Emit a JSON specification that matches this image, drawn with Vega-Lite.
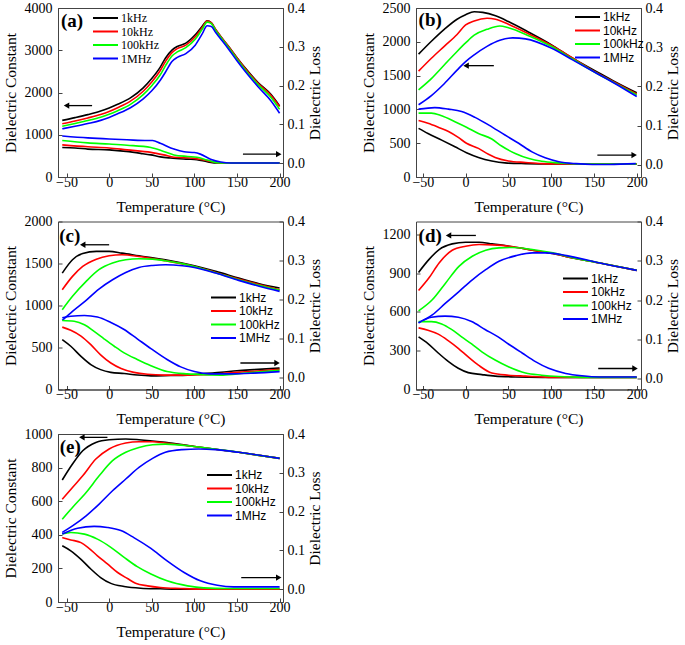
{
"$schema":"https://vega.github.io/schema/vega-lite/v6.json",
"background":"white",
"padding":{"left":2,"top":0,"right":0,"bottom":0},
"datasets":{
"aC":[
{"f":"1kHz","T":-55,"v":1340},{"f":"1kHz","T":-40,"v":1405},{"f":"1kHz","T":-25,"v":1476},{"f":"1kHz","T":-10,"v":1560},{"f":"1kHz","T":0,"v":1635},{"f":"1kHz","T":10,"v":1720},{"f":"1kHz","T":25,"v":1873},{"f":"1kHz","T":40,"v":2111},{"f":"1kHz","T":50,"v":2330},{"f":"1kHz","T":60,"v":2600},{"f":"1kHz","T":66,"v":2810},{"f":"1kHz","T":74,"v":3008},{"f":"1kHz","T":80,"v":3090},{"f":"1kHz","T":90,"v":3167},{"f":"1kHz","T":101,"v":3365},{"f":"1kHz","T":109,"v":3563},{"f":"1kHz","T":115,"v":3698},{"f":"1kHz","T":120,"v":3650},{"f":"1kHz","T":125,"v":3484},{"f":"1kHz","T":130,"v":3349},{"f":"1kHz","T":140,"v":3095},{"f":"1kHz","T":150,"v":2825},{"f":"1kHz","T":160,"v":2571},{"f":"1kHz","T":175,"v":2230},{"f":"1kHz","T":190,"v":1952},{"f":"1kHz","T":200,"v":1683},
{"f":"10kHz","T":-55,"v":1260},{"f":"10kHz","T":-40,"v":1325},{"f":"10kHz","T":-25,"v":1398},{"f":"10kHz","T":-10,"v":1480},{"f":"10kHz","T":0,"v":1550},{"f":"10kHz","T":10,"v":1640},{"f":"10kHz","T":25,"v":1795},{"f":"10kHz","T":40,"v":2030},{"f":"10kHz","T":50,"v":2250},{"f":"10kHz","T":60,"v":2520},{"f":"10kHz","T":66,"v":2730},{"f":"10kHz","T":74,"v":2950},{"f":"10kHz","T":80,"v":3040},{"f":"10kHz","T":90,"v":3120},{"f":"10kHz","T":101,"v":3320},{"f":"10kHz","T":109,"v":3530},{"f":"10kHz","T":115,"v":3690},{"f":"10kHz","T":120,"v":3650},{"f":"10kHz","T":125,"v":3490},{"f":"10kHz","T":130,"v":3350},{"f":"10kHz","T":140,"v":3090},{"f":"10kHz","T":150,"v":2815},{"f":"10kHz","T":160,"v":2555},{"f":"10kHz","T":175,"v":2210},{"f":"10kHz","T":190,"v":1930},{"f":"10kHz","T":200,"v":1665},
{"f":"100kHz","T":-55,"v":1200},{"f":"100kHz","T":-40,"v":1265},{"f":"100kHz","T":-25,"v":1335},{"f":"100kHz","T":-10,"v":1415},{"f":"100kHz","T":0,"v":1485},{"f":"100kHz","T":10,"v":1570},{"f":"100kHz","T":25,"v":1720},{"f":"100kHz","T":40,"v":1950},{"f":"100kHz","T":50,"v":2160},{"f":"100kHz","T":60,"v":2420},{"f":"100kHz","T":66,"v":2630},{"f":"100kHz","T":74,"v":2870},{"f":"100kHz","T":80,"v":2960},{"f":"100kHz","T":90,"v":3060},{"f":"100kHz","T":101,"v":3260},{"f":"100kHz","T":109,"v":3490},{"f":"100kHz","T":115,"v":3665},{"f":"100kHz","T":120,"v":3630},{"f":"100kHz","T":125,"v":3470},{"f":"100kHz","T":130,"v":3330},{"f":"100kHz","T":140,"v":3065},{"f":"100kHz","T":150,"v":2790},{"f":"100kHz","T":160,"v":2525},{"f":"100kHz","T":175,"v":2180},{"f":"100kHz","T":190,"v":1880},{"f":"100kHz","T":200,"v":1600},
{"f":"1MHz","T":-55,"v":1140},{"f":"1MHz","T":-40,"v":1200},{"f":"1MHz","T":-25,"v":1265},{"f":"1MHz","T":-10,"v":1340},{"f":"1MHz","T":0,"v":1410},{"f":"1MHz","T":10,"v":1495},{"f":"1MHz","T":25,"v":1640},{"f":"1MHz","T":40,"v":1850},{"f":"1MHz","T":50,"v":2040},{"f":"1MHz","T":60,"v":2290},{"f":"1MHz","T":66,"v":2480},{"f":"1MHz","T":74,"v":2740},{"f":"1MHz","T":80,"v":2830},{"f":"1MHz","T":90,"v":2920},{"f":"1MHz","T":101,"v":3120},{"f":"1MHz","T":109,"v":3380},{"f":"1MHz","T":115,"v":3580},{"f":"1MHz","T":120,"v":3560},{"f":"1MHz","T":125,"v":3420},{"f":"1MHz","T":130,"v":3290},{"f":"1MHz","T":140,"v":3030},{"f":"1MHz","T":150,"v":2750},{"f":"1MHz","T":160,"v":2490},{"f":"1MHz","T":175,"v":2130},{"f":"1MHz","T":190,"v":1800},{"f":"1MHz","T":200,"v":1510}
],
"aL":[
{"f":"1kHz","T":-55,"v":0.040},{"f":"1kHz","T":-40,"v":0.039},{"f":"1kHz","T":-25,"v":0.036},{"f":"1kHz","T":0,"v":0.034},{"f":"1kHz","T":20,"v":0.030},{"f":"1kHz","T":37,"v":0.025},{"f":"1kHz","T":49,"v":0.021},{"f":"1kHz","T":60,"v":0.016},{"f":"1kHz","T":72,"v":0.013},{"f":"1kHz","T":92,"v":0.010},{"f":"1kHz","T":103,"v":0.0086},{"f":"1kHz","T":115,"v":0.0034},{"f":"1kHz","T":127,"v":0},{"f":"1kHz","T":150,"v":0},{"f":"1kHz","T":175,"v":0},{"f":"1kHz","T":200,"v":0},
{"f":"10kHz","T":-55,"v":0.047},{"f":"10kHz","T":-25,"v":0.042},{"f":"10kHz","T":0,"v":0.039},{"f":"10kHz","T":21,"v":0.034},{"f":"10kHz","T":49,"v":0.0275},{"f":"10kHz","T":64,"v":0.021},{"f":"10kHz","T":76,"v":0.015},{"f":"10kHz","T":100,"v":0.012},{"f":"10kHz","T":111,"v":0.0077},{"f":"10kHz","T":123,"v":0.0026},{"f":"10kHz","T":131,"v":0},{"f":"10kHz","T":160,"v":0},{"f":"10kHz","T":200,"v":0},
{"f":"100kHz","T":-55,"v":0.058},{"f":"100kHz","T":-25,"v":0.052},{"f":"100kHz","T":0,"v":0.049},{"f":"100kHz","T":21,"v":0.046},{"f":"100kHz","T":49,"v":0.040},{"f":"100kHz","T":64,"v":0.030},{"f":"100kHz","T":76,"v":0.021},{"f":"100kHz","T":92,"v":0.017},{"f":"100kHz","T":103,"v":0.015},{"f":"100kHz","T":115,"v":0.0077},{"f":"100kHz","T":127,"v":0.001},{"f":"100kHz","T":135,"v":0},{"f":"100kHz","T":170,"v":0},{"f":"100kHz","T":200,"v":0},
{"f":"1MHz","T":-55,"v":0.070},{"f":"1MHz","T":-25,"v":0.065},{"f":"1MHz","T":0,"v":0.062},{"f":"1MHz","T":21,"v":0.060},{"f":"1MHz","T":45,"v":0.058},{"f":"1MHz","T":51,"v":0.058},{"f":"1MHz","T":60,"v":0.051},{"f":"1MHz","T":76,"v":0.036},{"f":"1MHz","T":88,"v":0.029},{"f":"1MHz","T":100,"v":0.027},{"f":"1MHz","T":107,"v":0.023},{"f":"1MHz","T":119,"v":0.010},{"f":"1MHz","T":131,"v":0.0026},{"f":"1MHz","T":143,"v":0},{"f":"1MHz","T":170,"v":0},{"f":"1MHz","T":200,"v":0}
],
"bC":[
{"f":"1kHz","T":-55,"v":1817},{"f":"1kHz","T":-40,"v":2008},{"f":"1kHz","T":-25,"v":2184},{"f":"1kHz","T":-10,"v":2334},{"f":"1kHz","T":0,"v":2400},{"f":"1kHz","T":10,"v":2445},{"f":"1kHz","T":20,"v":2435},{"f":"1kHz","T":35,"v":2385},{"f":"1kHz","T":50,"v":2300},{"f":"1kHz","T":75,"v":2134},{"f":"1kHz","T":100,"v":1958},{"f":"1kHz","T":125,"v":1757},{"f":"1kHz","T":150,"v":1581},{"f":"1kHz","T":175,"v":1406},{"f":"1kHz","T":200,"v":1245},
{"f":"10kHz","T":-55,"v":1566},{"f":"10kHz","T":-40,"v":1757},{"f":"10kHz","T":-25,"v":1933},{"f":"10kHz","T":-10,"v":2108},{"f":"10kHz","T":0,"v":2249},{"f":"10kHz","T":10,"v":2309},{"f":"10kHz","T":25,"v":2349},{"f":"10kHz","T":35,"v":2334},{"f":"10kHz","T":50,"v":2259},{"f":"10kHz","T":75,"v":2108},{"f":"10kHz","T":100,"v":1948},{"f":"10kHz","T":125,"v":1760},{"f":"10kHz","T":150,"v":1566},{"f":"10kHz","T":175,"v":1395},{"f":"10kHz","T":200,"v":1230},
{"f":"100kHz","T":-55,"v":1290},{"f":"100kHz","T":-40,"v":1456},{"f":"100kHz","T":-25,"v":1657},{"f":"100kHz","T":-10,"v":1857},{"f":"100kHz","T":0,"v":1983},{"f":"100kHz","T":10,"v":2098},{"f":"100kHz","T":25,"v":2184},{"f":"100kHz","T":40,"v":2234},{"f":"100kHz","T":50,"v":2209},{"f":"100kHz","T":75,"v":2083},{"f":"100kHz","T":100,"v":1933},{"f":"100kHz","T":125,"v":1745},{"f":"100kHz","T":150,"v":1556},{"f":"100kHz","T":175,"v":1385},{"f":"100kHz","T":200,"v":1215},
{"f":"1MHz","T":-55,"v":1069},{"f":"1MHz","T":-40,"v":1205},{"f":"1MHz","T":-25,"v":1380},{"f":"1MHz","T":-10,"v":1581},{"f":"1MHz","T":0,"v":1707},{"f":"1MHz","T":10,"v":1807},{"f":"1MHz","T":25,"v":1933},{"f":"1MHz","T":40,"v":2023},{"f":"1MHz","T":55,"v":2058},{"f":"1MHz","T":70,"v":2043},{"f":"1MHz","T":100,"v":1908},{"f":"1MHz","T":125,"v":1732},{"f":"1MHz","T":150,"v":1556},{"f":"1MHz","T":175,"v":1380},{"f":"1MHz","T":200,"v":1190}
],
"bL":[
{"f":"1kHz","T":-55,"v":0.093},{"f":"1kHz","T":-44,"v":0.080},{"f":"1kHz","T":-28,"v":0.063},{"f":"1kHz","T":-12.5,"v":0.046},{"f":"1kHz","T":1,"v":0.031},{"f":"1kHz","T":15,"v":0.019},{"f":"1kHz","T":30.6,"v":0.010},{"f":"1kHz","T":46,"v":0.005},{"f":"1kHz","T":70,"v":0.003},{"f":"1kHz","T":100,"v":0.002},{"f":"1kHz","T":150,"v":0.002},{"f":"1kHz","T":200,"v":0.002},
{"f":"10kHz","T":-55,"v":0.113},{"f":"10kHz","T":-44,"v":0.106},{"f":"10kHz","T":-32,"v":0.096},{"f":"10kHz","T":-20,"v":0.085},{"f":"10kHz","T":-8.6,"v":0.070},{"f":"10kHz","T":1,"v":0.055},{"f":"10kHz","T":15,"v":0.042},{"f":"10kHz","T":26.7,"v":0.027},{"f":"10kHz","T":34.5,"v":0.019},{"f":"10kHz","T":50,"v":0.010},{"f":"10kHz","T":70,"v":0.006},{"f":"10kHz","T":89,"v":0.003},{"f":"10kHz","T":110,"v":0.002},{"f":"10kHz","T":200,"v":0.002},
{"f":"100kHz","T":-55,"v":0.132},{"f":"100kHz","T":-40,"v":0.132},{"f":"100kHz","T":-28,"v":0.125},{"f":"100kHz","T":-12.5,"v":0.110},{"f":"100kHz","T":1,"v":0.096},{"f":"100kHz","T":15,"v":0.080},{"f":"100kHz","T":30.6,"v":0.066},{"f":"100kHz","T":42,"v":0.048},{"f":"100kHz","T":58,"v":0.029},{"f":"100kHz","T":74,"v":0.016},{"f":"100kHz","T":89,"v":0.009},{"f":"100kHz","T":109,"v":0.005},{"f":"100kHz","T":136,"v":0.002},{"f":"100kHz","T":200,"v":0.002},
{"f":"1MHz","T":-55,"v":0.142},{"f":"1MHz","T":-36,"v":0.146},{"f":"1MHz","T":-20,"v":0.142},{"f":"1MHz","T":-4.7,"v":0.136},{"f":"1MHz","T":11,"v":0.121},{"f":"1MHz","T":26.7,"v":0.102},{"f":"1MHz","T":46,"v":0.076},{"f":"1MHz","T":62,"v":0.055},{"f":"1MHz","T":77.6,"v":0.033},{"f":"1MHz","T":93,"v":0.018},{"f":"1MHz","T":109,"v":0.008},{"f":"1MHz","T":129,"v":0.003},{"f":"1MHz","T":148,"v":0.001},{"f":"1MHz","T":168,"v":0.001},{"f":"1MHz","T":199,"v":0.003}
],
"cC":[
{"f":"1kHz","T":-55,"v":1386},{"f":"1kHz","T":-43,"v":1545},{"f":"1kHz","T":-31,"v":1620},{"f":"1kHz","T":-15,"v":1644},{"f":"1kHz","T":0,"v":1644},{"f":"1kHz","T":15,"v":1624},{"f":"1kHz","T":35,"v":1592},{"f":"1kHz","T":66,"v":1545},{"f":"1kHz","T":100,"v":1473},{"f":"1kHz","T":125,"v":1406},{"f":"1kHz","T":152,"v":1327},{"f":"1kHz","T":176,"v":1259},{"f":"1kHz","T":200,"v":1208},
{"f":"10kHz","T":-55,"v":1188},{"f":"10kHz","T":-43,"v":1347},{"f":"10kHz","T":-31,"v":1465},{"f":"10kHz","T":-15,"v":1552},{"f":"10kHz","T":0,"v":1592},{"f":"10kHz","T":15,"v":1604},{"f":"10kHz","T":35,"v":1584},{"f":"10kHz","T":66,"v":1533},{"f":"10kHz","T":100,"v":1465},{"f":"10kHz","T":125,"v":1394},{"f":"10kHz","T":152,"v":1315},{"f":"10kHz","T":176,"v":1250},{"f":"10kHz","T":200,"v":1188},
{"f":"100kHz","T":-55,"v":950},{"f":"100kHz","T":-43,"v":1109},{"f":"100kHz","T":-27,"v":1287},{"f":"100kHz","T":-12,"v":1426},{"f":"100kHz","T":4,"v":1505},{"f":"100kHz","T":19.5,"v":1545},{"f":"100kHz","T":35,"v":1556},{"f":"100kHz","T":51,"v":1552},{"f":"100kHz","T":66,"v":1533},{"f":"100kHz","T":100,"v":1465},{"f":"100kHz","T":125,"v":1390},{"f":"100kHz","T":152,"v":1307},{"f":"100kHz","T":176,"v":1240},{"f":"100kHz","T":200,"v":1180},
{"f":"1MHz","T":-55,"v":824},{"f":"1MHz","T":-43,"v":931},{"f":"1MHz","T":-27,"v":1061},{"f":"1MHz","T":-12,"v":1196},{"f":"1MHz","T":4,"v":1307},{"f":"1MHz","T":19.5,"v":1394},{"f":"1MHz","T":35,"v":1453},{"f":"1MHz","T":51,"v":1477},{"f":"1MHz","T":66,"v":1485},{"f":"1MHz","T":86,"v":1473},{"f":"1MHz","T":100,"v":1453},{"f":"1MHz","T":125,"v":1386},{"f":"1MHz","T":152,"v":1299},{"f":"1MHz","T":176,"v":1230},{"f":"1MHz","T":200,"v":1168}
],
"cL":[
{"f":"1kHz","T":-55,"v":0.097},{"f":"1kHz","T":-45,"v":0.080},{"f":"1kHz","T":-33,"v":0.054},{"f":"1kHz","T":-21.5,"v":0.033},{"f":"1kHz","T":-10,"v":0.020},{"f":"1kHz","T":2,"v":0.013},{"f":"1kHz","T":17.6,"v":0.010},{"f":"1kHz","T":33,"v":0.006},{"f":"1kHz","T":49,"v":0.004},{"f":"1kHz","T":72,"v":0.005},{"f":"1kHz","T":92,"v":0.006},{"f":"1kHz","T":111,"v":0.010},{"f":"1kHz","T":131,"v":0.013},{"f":"1kHz","T":150,"v":0.017},{"f":"1kHz","T":170,"v":0.020},{"f":"1kHz","T":200,"v":0.024},
{"f":"10kHz","T":-55,"v":0.129},{"f":"10kHz","T":-45,"v":0.121},{"f":"10kHz","T":-33,"v":0.106},{"f":"10kHz","T":-21.5,"v":0.084},{"f":"10kHz","T":-10,"v":0.058},{"f":"10kHz","T":2,"v":0.037},{"f":"10kHz","T":14,"v":0.023},{"f":"10kHz","T":29,"v":0.013},{"f":"10kHz","T":45,"v":0.008},{"f":"10kHz","T":64.5,"v":0.006},{"f":"10kHz","T":92,"v":0.006},{"f":"10kHz","T":111,"v":0.007},{"f":"10kHz","T":131,"v":0.010},{"f":"10kHz","T":150,"v":0.013},{"f":"10kHz","T":170,"v":0.016},{"f":"10kHz","T":200,"v":0.021},
{"f":"100kHz","T":-55,"v":0.146},{"f":"100kHz","T":-41,"v":0.144},{"f":"100kHz","T":-29,"v":0.135},{"f":"100kHz","T":-17.6,"v":0.118},{"f":"100kHz","T":-6,"v":0.099},{"f":"100kHz","T":6,"v":0.080},{"f":"100kHz","T":17.6,"v":0.063},{"f":"100kHz","T":33,"v":0.046},{"f":"100kHz","T":49,"v":0.030},{"f":"100kHz","T":68,"v":0.015},{"f":"100kHz","T":92,"v":0.009},{"f":"100kHz","T":111,"v":0.007},{"f":"100kHz","T":131,"v":0.006},{"f":"100kHz","T":150,"v":0.009},{"f":"100kHz","T":170,"v":0.013},{"f":"100kHz","T":200,"v":0.018},
{"f":"1MHz","T":-55,"v":0.153},{"f":"1MHz","T":-45,"v":0.157},{"f":"1MHz","T":-29,"v":0.159},{"f":"1MHz","T":-13.7,"v":0.155},{"f":"1MHz","T":2,"v":0.141},{"f":"1MHz","T":17.6,"v":0.123},{"f":"1MHz","T":33,"v":0.099},{"f":"1MHz","T":49,"v":0.074},{"f":"1MHz","T":68,"v":0.046},{"f":"1MHz","T":84,"v":0.027},{"f":"1MHz","T":100,"v":0.015},{"f":"1MHz","T":119,"v":0.009},{"f":"1MHz","T":143,"v":0.009},{"f":"1MHz","T":170,"v":0.011},{"f":"1MHz","T":200,"v":0.015}
],
"dC":[
{"f":"1kHz","T":-55,"v":906},{"f":"1kHz","T":-43,"v":1005},{"f":"1kHz","T":-31,"v":1083},{"f":"1kHz","T":-15.7,"v":1127},{"f":"1kHz","T":0,"v":1140},{"f":"1kHz","T":15.7,"v":1140},{"f":"1kHz","T":31,"v":1127},{"f":"1kHz","T":51,"v":1109},{"f":"1kHz","T":78,"v":1078},{"f":"1kHz","T":102,"v":1052},{"f":"1kHz","T":125,"v":1018},{"f":"1kHz","T":157,"v":979},{"f":"1kHz","T":200,"v":922},
{"f":"10kHz","T":-55,"v":766},{"f":"10kHz","T":-43,"v":862},{"f":"10kHz","T":-31,"v":979},{"f":"10kHz","T":-15.7,"v":1078},{"f":"10kHz","T":0,"v":1109},{"f":"10kHz","T":15.7,"v":1122},{"f":"10kHz","T":31,"v":1119},{"f":"10kHz","T":51,"v":1109},{"f":"10kHz","T":78,"v":1078},{"f":"10kHz","T":102,"v":1052},{"f":"10kHz","T":125,"v":1018},{"f":"10kHz","T":157,"v":979},{"f":"10kHz","T":200,"v":922},
{"f":"100kHz","T":-55,"v":608},{"f":"100kHz","T":-39,"v":694},{"f":"100kHz","T":-23.5,"v":823},{"f":"100kHz","T":-7.8,"v":953},{"f":"100kHz","T":7.8,"v":1031},{"f":"100kHz","T":23.5,"v":1078},{"f":"100kHz","T":39,"v":1096},{"f":"100kHz","T":55,"v":1099},{"f":"100kHz","T":78,"v":1083},{"f":"100kHz","T":102,"v":1057},{"f":"100kHz","T":125,"v":1020},{"f":"100kHz","T":157,"v":979},{"f":"100kHz","T":200,"v":922},
{"f":"1MHz","T":-55,"v":517},{"f":"1MHz","T":-39,"v":577},{"f":"1MHz","T":-23.5,"v":668},{"f":"1MHz","T":-7.8,"v":758},{"f":"1MHz","T":7.8,"v":849},{"f":"1MHz","T":23.5,"v":927},{"f":"1MHz","T":39,"v":992},{"f":"1MHz","T":59,"v":1036},{"f":"1MHz","T":78,"v":1057},{"f":"1MHz","T":94,"v":1057},{"f":"1MHz","T":118,"v":1036},{"f":"1MHz","T":157,"v":979},{"f":"1MHz","T":200,"v":922}
],
"dL":[
{"f":"1kHz","T":-55,"v":0.106},{"f":"1kHz","T":-44,"v":0.089},{"f":"1kHz","T":-32,"v":0.065},{"f":"1kHz","T":-20,"v":0.043},{"f":"1kHz","T":-8.6,"v":0.026},{"f":"1kHz","T":3,"v":0.015},{"f":"1kHz","T":19,"v":0.010},{"f":"1kHz","T":34.5,"v":0.006},{"f":"1kHz","T":58,"v":0.004},{"f":"1kHz","T":90,"v":0.003},{"f":"1kHz","T":150,"v":0.003},{"f":"1kHz","T":200,"v":0.003},
{"f":"10kHz","T":-55,"v":0.129},{"f":"10kHz","T":-44,"v":0.123},{"f":"10kHz","T":-32,"v":0.113},{"f":"10kHz","T":-20,"v":0.096},{"f":"10kHz","T":-8.6,"v":0.077},{"f":"10kHz","T":3,"v":0.055},{"f":"10kHz","T":15,"v":0.034},{"f":"10kHz","T":30.6,"v":0.014},{"f":"10kHz","T":50,"v":0.0085},{"f":"10kHz","T":70,"v":0.006},{"f":"10kHz","T":97,"v":0.003},{"f":"10kHz","T":120,"v":0.0025},{"f":"10kHz","T":200,"v":0.0025},
{"f":"100kHz","T":-55,"v":0.145},{"f":"100kHz","T":-40,"v":0.145},{"f":"100kHz","T":-28,"v":0.139},{"f":"100kHz","T":-16.5,"v":0.125},{"f":"100kHz","T":-4.7,"v":0.106},{"f":"100kHz","T":7,"v":0.088},{"f":"100kHz","T":19,"v":0.068},{"f":"100kHz","T":34.5,"v":0.047},{"f":"100kHz","T":50,"v":0.030},{"f":"100kHz","T":70,"v":0.014},{"f":"100kHz","T":89,"v":0.0085},{"f":"100kHz","T":109,"v":0.005},{"f":"100kHz","T":136,"v":0.003},{"f":"100kHz","T":170,"v":0.0025},{"f":"100kHz","T":200,"v":0.0025},
{"f":"1MHz","T":-55,"v":0.142},{"f":"1MHz","T":-40,"v":0.156},{"f":"1MHz","T":-24,"v":0.159},{"f":"1MHz","T":-8.6,"v":0.156},{"f":"1MHz","T":7,"v":0.145},{"f":"1MHz","T":22.7,"v":0.125},{"f":"1MHz","T":38,"v":0.106},{"f":"1MHz","T":50,"v":0.088},{"f":"1MHz","T":66,"v":0.065},{"f":"1MHz","T":81.6,"v":0.043},{"f":"1MHz","T":97,"v":0.026},{"f":"1MHz","T":117,"v":0.013},{"f":"1MHz","T":136,"v":0.007},{"f":"1MHz","T":156,"v":0.004},{"f":"1MHz","T":200,"v":0.004}
],
"eC":[
{"f":"1kHz","T":-55,"v":726},{"f":"1kHz","T":-43,"v":821},{"f":"1kHz","T":-31,"v":900},{"f":"1kHz","T":-15.6,"v":950},{"f":"1kHz","T":0,"v":966},{"f":"1kHz","T":19.5,"v":970},{"f":"1kHz","T":35,"v":966},{"f":"1kHz","T":66,"v":950},{"f":"1kHz","T":100,"v":926},{"f":"1kHz","T":152,"v":891},{"f":"1kHz","T":200,"v":855},
{"f":"10kHz","T":-55,"v":612},{"f":"10kHz","T":-43,"v":682},{"f":"10kHz","T":-31,"v":751},{"f":"10kHz","T":-15.6,"v":851},{"f":"10kHz","T":0,"v":911},{"f":"10kHz","T":19.5,"v":946},{"f":"10kHz","T":35,"v":954},{"f":"10kHz","T":51,"v":954},{"f":"10kHz","T":66,"v":946},{"f":"10kHz","T":100,"v":926},{"f":"10kHz","T":152,"v":891},{"f":"10kHz","T":200,"v":855},
{"f":"100kHz","T":-55,"v":493},{"f":"100kHz","T":-43,"v":563},{"f":"100kHz","T":-27,"v":652},{"f":"100kHz","T":-11.7,"v":751},{"f":"100kHz","T":4,"v":841},{"f":"100kHz","T":19.5,"v":891},{"f":"100kHz","T":35,"v":920},{"f":"100kHz","T":51,"v":936},{"f":"100kHz","T":66,"v":940},{"f":"100kHz","T":100,"v":926},{"f":"100kHz","T":152,"v":891},{"f":"100kHz","T":200,"v":855},
{"f":"1MHz","T":-55,"v":414},{"f":"1MHz","T":-43,"v":453},{"f":"1MHz","T":-27,"v":513},{"f":"1MHz","T":-11.7,"v":583},{"f":"1MHz","T":4,"v":662},{"f":"1MHz","T":19.5,"v":732},{"f":"1MHz","T":35,"v":801},{"f":"1MHz","T":51,"v":855},{"f":"1MHz","T":66,"v":891},{"f":"1MHz","T":86,"v":907},{"f":"1MHz","T":105,"v":911},{"f":"1MHz","T":125,"v":907},{"f":"1MHz","T":152,"v":891},{"f":"1MHz","T":200,"v":855}
],
"eL":[
{"f":"1kHz","T":-55,"v":0.112},{"f":"1kHz","T":-45,"v":0.099},{"f":"1kHz","T":-33,"v":0.077},{"f":"1kHz","T":-21.5,"v":0.052},{"f":"1kHz","T":-10,"v":0.030},{"f":"1kHz","T":2,"v":0.015},{"f":"1kHz","T":17.6,"v":0.007},{"f":"1kHz","T":37,"v":0.0026},{"f":"1kHz","T":60,"v":0.001},{"f":"1kHz","T":80,"v":0},{"f":"1kHz","T":200,"v":0},
{"f":"10kHz","T":-55,"v":0.133},{"f":"10kHz","T":-45,"v":0.127},{"f":"10kHz","T":-33,"v":0.120},{"f":"10kHz","T":-25,"v":0.108},{"f":"10kHz","T":-13.7,"v":0.086},{"f":"10kHz","T":-2,"v":0.065},{"f":"10kHz","T":10,"v":0.043},{"f":"10kHz","T":21.5,"v":0.0275},{"f":"10kHz","T":31,"v":0.0155},{"f":"10kHz","T":45,"v":0.0086},{"f":"10kHz","T":60,"v":0.0043},{"f":"10kHz","T":84,"v":0.0017},{"f":"10kHz","T":111,"v":0},{"f":"10kHz","T":200,"v":0},
{"f":"100kHz","T":-55,"v":0.142},{"f":"100kHz","T":-45,"v":0.146},{"f":"100kHz","T":-29,"v":0.142},{"f":"100kHz","T":-13.7,"v":0.129},{"f":"100kHz","T":2,"v":0.108},{"f":"100kHz","T":17.6,"v":0.082},{"f":"100kHz","T":33,"v":0.058},{"f":"100kHz","T":49,"v":0.039},{"f":"100kHz","T":68,"v":0.0215},{"f":"100kHz","T":92,"v":0.0086},{"f":"100kHz","T":111,"v":0.0034},{"f":"100kHz","T":139,"v":0.0017},{"f":"100kHz","T":200,"v":0.0017},
{"f":"1MHz","T":-55,"v":0.142},{"f":"1MHz","T":-37,"v":0.157},{"f":"1MHz","T":-17.6,"v":0.162},{"f":"1MHz","T":-2,"v":0.159},{"f":"1MHz","T":13.7,"v":0.151},{"f":"1MHz","T":29,"v":0.133},{"f":"1MHz","T":49,"v":0.105},{"f":"1MHz","T":68,"v":0.073},{"f":"1MHz","T":88,"v":0.043},{"f":"1MHz","T":107,"v":0.0215},{"f":"1MHz","T":127,"v":0.010},{"f":"1MHz","T":146,"v":0.006},{"f":"1MHz","T":200,"v":0.006}
]
},
"columns":2,
"spacing":{"row":44.5,"column":133},
"bounds":"flush",
"resolve":{"scale":{"x":"independent","y":"independent","color":"independent"},"legend":{"color":"independent"}},
"concat":[
{"width":225,"height":169,
 "layer":[
  {"layer":[
   {"data":{"name":"aC"},"mark":{"type":"line","strokeWidth":1.6,"interpolate":"monotone"},
    "encoding":{
     "x":{"field":"T","type":"quantitative","scale":{"domain":[-60,204],"nice":false,"zero":false},"axis":{"values":[-50,0,50,100,150,200],"tickCount":10,"title":"Temperature (°C)"}},
     "y":{"field":"v","type":"quantitative","scale":{"domain":[0,4000],"nice":false,"zero":false},"axis":{"values":[0,1000,2000,3000,4000],"tickCount":10,"format":"d","title":"Dielectric Constant","orient":"left"}},
     "color":{"field":"f","type":"nominal","scale":{"domain":["1kHz","10kHz","100kHz","1MHz"],"range":["#000000","#ff0000","#00ff00","#0000ff"]},
      "legend":{"orient":"none","legendX":49,"legendY":4,"labelFont":"Liberation Serif"}}}},
   {"data":{"values":[{"T":-50,"T2":-20,"v":1690}]},"mark":{"type":"rule","color":"black","strokeWidth":1.3},"encoding":{"x":{"field":"T","type":"quantitative"},"x2":{"field":"T2"},"y":{"field":"v","type":"quantitative"}}},
   {"data":{"values":[{"T":-50,"v":1690}]},"mark":{"type":"point","shape":"triangle-left","filled":true,"color":"black","size":40,"opacity":1},"encoding":{"x":{"field":"T","type":"quantitative"},"y":{"field":"v","type":"quantitative"}}},
   {"data":{"values":[{"T":-56.5,"v":3690,"t":"(a)"}]},"mark":{"type":"text","font":"Liberation Serif","fontWeight":"bold","fontSize":19,"align":"left","baseline":"middle","color":"black"},"encoding":{"x":{"field":"T","type":"quantitative"},"y":{"field":"v","type":"quantitative"},"text":{"field":"t"}}}
  ]},
  {"layer":[
   {"data":{"name":"aL"},"mark":{"type":"line","strokeWidth":1.6,"interpolate":"monotone"},
    "encoding":{
     "x":{"field":"T","type":"quantitative"},
     "y":{"field":"v","type":"quantitative","scale":{"domain":[-0.036,0.4],"nice":false,"zero":false},"axis":{"values":[0,0.1,0.2,0.3,0.4],"tickCount":10,"format":".1f","title":"Dielectric Loss","orient":"right"}},
     "color":{"field":"f","type":"nominal"}}},
   {"data":{"values":[{"T":157,"T2":199,"v":0.023}]},"mark":{"type":"rule","color":"black","strokeWidth":1.3},"encoding":{"x":{"field":"T","type":"quantitative"},"x2":{"field":"T2"},"y":{"field":"v","type":"quantitative"}}},
   {"data":{"values":[{"T":199,"v":0.023}]},"mark":{"type":"point","shape":"triangle-right","filled":true,"color":"black","size":40,"opacity":1},"encoding":{"x":{"field":"T","type":"quantitative"},"y":{"field":"v","type":"quantitative"}}}
  ]}
 ],
 "resolve":{"scale":{"y":"independent"}}
},
{"width":225,"height":169,
 "layer":[
  {"layer":[
   {"data":{"name":"bC"},"mark":{"type":"line","strokeWidth":1.6,"interpolate":"monotone"},
    "encoding":{
     "x":{"field":"T","type":"quantitative","scale":{"domain":[-58,205],"nice":false,"zero":false},"axis":{"values":[-50,0,50,100,150,200],"tickCount":10,"title":"Temperature (°C)"}},
     "y":{"field":"v","type":"quantitative","scale":{"domain":[0,2500],"nice":false,"zero":false},"axis":{"values":[0,500,1000,1500,2000,2500],"tickCount":10,"format":"d","title":"Dielectric Constant","orient":"left"}},
     "color":{"field":"f","type":"nominal","scale":{"domain":["1kHz","10kHz","100kHz","1MHz"],"range":["#000000","#ff0000","#00ff00","#0000ff"]},
      "legend":{"orient":"none","legendX":173,"legendY":3}}}},
   {"data":{"values":[{"T":0.5,"T2":33,"v":1647}]},"mark":{"type":"rule","color":"black","strokeWidth":1.3},"encoding":{"x":{"field":"T","type":"quantitative"},"x2":{"field":"T2"},"y":{"field":"v","type":"quantitative"}}},
   {"data":{"values":[{"T":0.5,"v":1647}]},"mark":{"type":"point","shape":"triangle-left","filled":true,"color":"black","size":40,"opacity":1},"encoding":{"x":{"field":"T","type":"quantitative"},"y":{"field":"v","type":"quantitative"}}},
   {"data":{"values":[{"T":-55,"v":2319,"t":"(b)"}]},"mark":{"type":"text","font":"Liberation Serif","fontWeight":"bold","fontSize":19,"align":"left","baseline":"middle","color":"black"},"encoding":{"x":{"field":"T","type":"quantitative"},"y":{"field":"v","type":"quantitative"},"text":{"field":"t"}}}
  ]},
  {"layer":[
   {"data":{"name":"bL"},"mark":{"type":"line","strokeWidth":1.6,"interpolate":"monotone"},
    "encoding":{
     "x":{"field":"T","type":"quantitative"},
     "y":{"field":"v","type":"quantitative","scale":{"domain":[-0.031,0.4],"nice":false,"zero":false},"axis":{"values":[0,0.1,0.2,0.3,0.4],"tickCount":10,"format":".1f","title":"Dielectric Loss","orient":"right"}},
     "color":{"field":"f","type":"nominal"}}},
   {"data":{"values":[{"T":154,"T2":197,"v":0.025}]},"mark":{"type":"rule","color":"black","strokeWidth":1.3},"encoding":{"x":{"field":"T","type":"quantitative"},"x2":{"field":"T2"},"y":{"field":"v","type":"quantitative"}}},
   {"data":{"values":[{"T":197,"v":0.025}]},"mark":{"type":"point","shape":"triangle-right","filled":true,"color":"black","size":40,"opacity":1},"encoding":{"x":{"field":"T","type":"quantitative"},"y":{"field":"v","type":"quantitative"}}}
  ]}
 ],
 "resolve":{"scale":{"y":"independent"}}
},
{"width":225,"height":168,
 "layer":[
  {"layer":[
   {"data":{"name":"cC"},"mark":{"type":"line","strokeWidth":1.6,"interpolate":"monotone"},
    "encoding":{
     "x":{"field":"T","type":"quantitative","scale":{"domain":[-60,204],"nice":false,"zero":false},"axis":{"values":[-50,0,50,100,150,200],"tickCount":10,"title":"Temperature (°C)"}},
     "y":{"field":"v","type":"quantitative","scale":{"domain":[0,2000],"nice":false,"zero":false},"axis":{"values":[0,500,1000,1500,2000],"tickCount":10,"format":"d","title":"Dielectric Constant","orient":"left"}},
     "color":{"field":"f","type":"nominal","scale":{"domain":["1kHz","10kHz","100kHz","1MHz"],"range":["#000000","#ff0000","#00ff00","#0000ff"]},
      "legend":{"orient":"none","legendX":167,"legendY":70}}}},
   {"data":{"values":[{"T":-31,"T2":0,"v":1723}]},"mark":{"type":"rule","color":"black","strokeWidth":1.3},"encoding":{"x":{"field":"T","type":"quantitative"},"x2":{"field":"T2"},"y":{"field":"v","type":"quantitative"}}},
   {"data":{"values":[{"T":-31,"v":1723}]},"mark":{"type":"point","shape":"triangle-left","filled":true,"color":"black","size":40,"opacity":1},"encoding":{"x":{"field":"T","type":"quantitative"},"y":{"field":"v","type":"quantitative"}}},
   {"data":{"values":[{"T":-58.5,"v":1822,"t":"(c)"}]},"mark":{"type":"text","font":"Liberation Serif","fontWeight":"bold","fontSize":19,"align":"left","baseline":"middle","color":"black"},"encoding":{"x":{"field":"T","type":"quantitative"},"y":{"field":"v","type":"quantitative"},"text":{"field":"t"}}}
  ]},
  {"layer":[
   {"data":{"name":"cL"},"mark":{"type":"line","strokeWidth":1.6,"interpolate":"monotone"},
    "encoding":{
     "x":{"field":"T","type":"quantitative"},
     "y":{"field":"v","type":"quantitative","scale":{"domain":[-0.031,0.4],"nice":false,"zero":false},"axis":{"values":[0,0.1,0.2,0.3,0.4],"tickCount":10,"format":".1f","title":"Dielectric Loss","orient":"right"}},
     "color":{"field":"f","type":"nominal"}}},
   {"data":{"values":[{"T":154,"T2":197,"v":0.037}]},"mark":{"type":"rule","color":"black","strokeWidth":1.3},"encoding":{"x":{"field":"T","type":"quantitative"},"x2":{"field":"T2"},"y":{"field":"v","type":"quantitative"}}},
   {"data":{"values":[{"T":197,"v":0.037}]},"mark":{"type":"point","shape":"triangle-right","filled":true,"color":"black","size":40,"opacity":1},"encoding":{"x":{"field":"T","type":"quantitative"},"y":{"field":"v","type":"quantitative"}}}
  ]}
 ],
 "resolve":{"scale":{"y":"independent"}}
},
{"width":225,"height":168,
 "layer":[
  {"layer":[
   {"data":{"name":"dC"},"mark":{"type":"line","strokeWidth":1.6,"interpolate":"monotone"},
    "encoding":{
     "x":{"field":"T","type":"quantitative","scale":{"domain":[-58,205],"nice":false,"zero":false},"axis":{"values":[-50,0,50,100,150,200],"tickCount":10,"title":"Temperature (°C)"}},
     "y":{"field":"v","type":"quantitative","scale":{"domain":[0,1300],"nice":false,"zero":false},"axis":{"values":[0,300,600,900,1200],"tickCount":10,"format":"d","title":"Dielectric Constant","orient":"left"}},
     "color":{"field":"f","type":"nominal","scale":{"domain":["1kHz","10kHz","100kHz","1MHz"],"range":["#000000","#ff0000","#00ff00","#0000ff"]},
      "legend":{"orient":"none","legendX":161,"legendY":51}}}},
   {"data":{"values":[{"T":-20,"T2":12,"v":1192}]},"mark":{"type":"rule","color":"black","strokeWidth":1.3},"encoding":{"x":{"field":"T","type":"quantitative"},"x2":{"field":"T2"},"y":{"field":"v","type":"quantitative"}}},
   {"data":{"values":[{"T":-20,"v":1192}]},"mark":{"type":"point","shape":"triangle-left","filled":true,"color":"black","size":40,"opacity":1},"encoding":{"x":{"field":"T","type":"quantitative"},"y":{"field":"v","type":"quantitative"}}},
   {"data":{"values":[{"T":-55,"v":1187,"t":"(d)"}]},"mark":{"type":"text","font":"Liberation Serif","fontWeight":"bold","fontSize":19,"align":"left","baseline":"middle","color":"black"},"encoding":{"x":{"field":"T","type":"quantitative"},"y":{"field":"v","type":"quantitative"},"text":{"field":"t"}}}
  ]},
  {"layer":[
   {"data":{"name":"dL"},"mark":{"type":"line","strokeWidth":1.6,"interpolate":"monotone"},
    "encoding":{
     "x":{"field":"T","type":"quantitative"},
     "y":{"field":"v","type":"quantitative","scale":{"domain":[-0.028,0.4],"nice":false,"zero":false},"axis":{"values":[0,0.1,0.2,0.3,0.4],"tickCount":10,"format":".1f","title":"Dielectric Loss","orient":"right"}},
     "color":{"field":"f","type":"nominal"}}},
   {"data":{"values":[{"T":155,"T2":198,"v":0.0255}]},"mark":{"type":"rule","color":"black","strokeWidth":1.3},"encoding":{"x":{"field":"T","type":"quantitative"},"x2":{"field":"T2"},"y":{"field":"v","type":"quantitative"}}},
   {"data":{"values":[{"T":198,"v":0.0255}]},"mark":{"type":"point","shape":"triangle-right","filled":true,"color":"black","size":40,"opacity":1},"encoding":{"x":{"field":"T","type":"quantitative"},"y":{"field":"v","type":"quantitative"}}}
  ]}
 ],
 "resolve":{"scale":{"y":"independent"}}
},
{"width":225,"height":168,
 "layer":[
  {"layer":[
   {"data":{"name":"eC"},"mark":{"type":"line","strokeWidth":1.6,"interpolate":"monotone"},
    "encoding":{
     "x":{"field":"T","type":"quantitative","scale":{"domain":[-60,204],"nice":false,"zero":false},"axis":{"values":[-50,0,50,100,150,200],"tickCount":10,"title":"Temperature (°C)"}},
     "y":{"field":"v","type":"quantitative","scale":{"domain":[0,1000],"nice":false,"zero":false},"axis":{"values":[0,200,400,600,800,1000],"tickCount":10,"format":"d","title":"Dielectric Constant","orient":"left"}},
     "color":{"field":"f","type":"nominal","scale":{"domain":["1kHz","10kHz","100kHz","1MHz"],"range":["#000000","#ff0000","#00ff00","#0000ff"]},
      "legend":{"orient":"none","legendX":163,"legendY":35}}}},
   {"data":{"values":[{"T":-32,"T2":-2,"v":980}]},"mark":{"type":"rule","color":"black","strokeWidth":1.3},"encoding":{"x":{"field":"T","type":"quantitative"},"x2":{"field":"T2"},"y":{"field":"v","type":"quantitative"}}},
   {"data":{"values":[{"T":-32,"v":980}]},"mark":{"type":"point","shape":"triangle-left","filled":true,"color":"black","size":40,"opacity":1},"encoding":{"x":{"field":"T","type":"quantitative"},"y":{"field":"v","type":"quantitative"}}},
   {"data":{"values":[{"T":-58,"v":920,"t":"(e)"}]},"mark":{"type":"text","font":"Liberation Serif","fontWeight":"bold","fontSize":19,"align":"left","baseline":"middle","color":"black"},"encoding":{"x":{"field":"T","type":"quantitative"},"y":{"field":"v","type":"quantitative"},"text":{"field":"t"}}}
  ]},
  {"layer":[
   {"data":{"name":"eL"},"mark":{"type":"line","strokeWidth":1.6,"interpolate":"monotone"},
    "encoding":{
     "x":{"field":"T","type":"quantitative"},
     "y":{"field":"v","type":"quantitative","scale":{"domain":[-0.033,0.4],"nice":false,"zero":false},"axis":{"values":[0,0.1,0.2,0.3,0.4],"tickCount":10,"format":".1f","title":"Dielectric Loss","orient":"right"}},
     "color":{"field":"f","type":"nominal"}}},
   {"data":{"values":[{"T":155,"T2":199,"v":0.030}]},"mark":{"type":"rule","color":"black","strokeWidth":1.3},"encoding":{"x":{"field":"T","type":"quantitative"},"x2":{"field":"T2"},"y":{"field":"v","type":"quantitative"}}},
   {"data":{"values":[{"T":199,"v":0.030}]},"mark":{"type":"point","shape":"triangle-right","filled":true,"color":"black","size":40,"opacity":1},"encoding":{"x":{"field":"T","type":"quantitative"},"y":{"field":"v","type":"quantitative"}}}
  ]}
 ],
 "resolve":{"scale":{"y":"independent"}}
}
],
"config":{
 "font":"Liberation Serif",
 "view":{"stroke":"#444","strokeWidth":1},
 "axis":{"labelFont":"Liberation Serif","labelFontSize":14,"labelColor":"#000","titleFont":"Liberation Serif","titleFontSize":15.5,"titleFontWeight":"normal","titleColor":"#000","domainColor":"#444","tickColor":"#444","grid":false,"tickSize":-4,"labelFlush":false,"labelOverlap":false},
 "axisLeft":{"titlePadding":6,"labelPadding":10},
 "axisRight":{"titlePadding":3,"titleAngle":270,"titleBaseline":"top","labelPadding":8},
 "axisBottom":{"titlePadding":10,"labelPadding":2},
 "legend":{"title":null,"symbolType":"M-4,0H1","symbolSize":100,"symbolStrokeWidth":2,"labelFont":"Liberation Sans","labelFontSize":12,"labelOffset":2,"rowPadding":1.5,"padding":0,"labelColor":"#000"}
}
}
